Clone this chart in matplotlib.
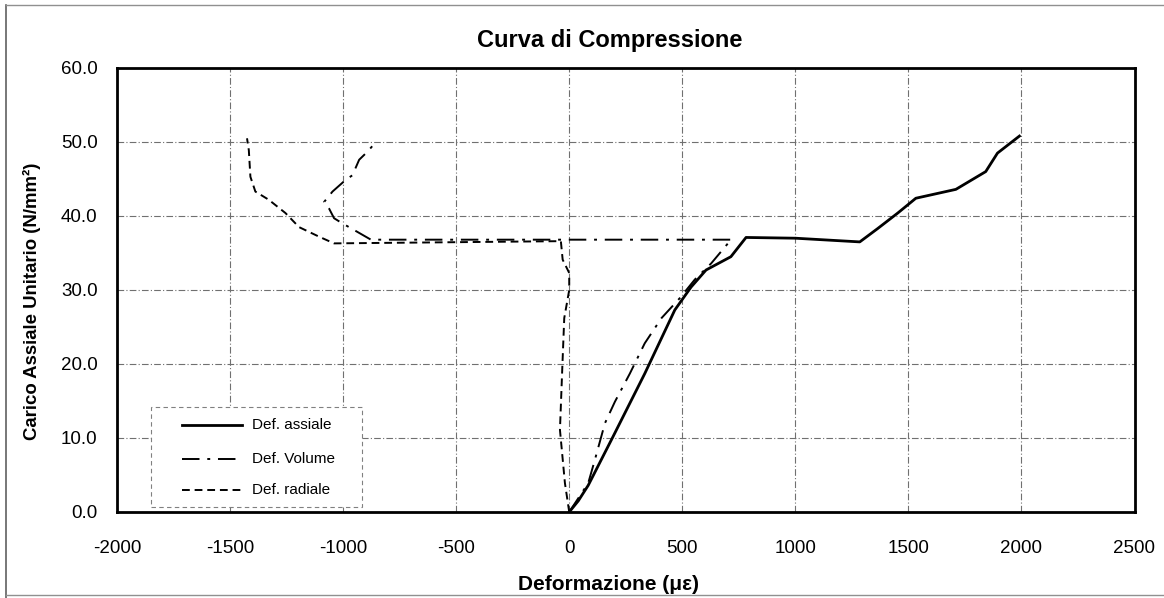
import matplotlib
matplotlib.use("Agg")
import matplotlib.pyplot as plt
from matplotlib.lines import Line2D
from matplotlib.patches import Rectangle

plt.rcParams['font.family'] = ['Liberation Sans', 'DejaVu Sans']

# Data (deformation in microstrain, load in N/mm2)
axial_x = [0, 40, 84, 194, 334, 467, 539, 605, 715, 782, 1000, 1285, 1364, 1453, 1533, 1710, 1842, 1894, 1991]
axial_y = [0, 1.5, 3.6, 10.2, 18.7, 27.3, 30.4, 32.7, 34.5, 37.1, 37.0, 36.5, 38.3, 40.4, 42.4, 43.6, 46.0, 48.5, 50.8]

volume_x = [0, 84, 113, 158, 202, 268, 334, 408, 489, 555, 628, 702, 720, -877, -951, -1003, -1040, -1062, -1084,
            -1047, -988, -959, -929, -892, -855]
volume_y = [0, 3.9, 7.0, 12.0, 14.9, 18.7, 22.8, 26.2, 28.9, 31.4, 33.6, 36.3, 36.8, 36.8, 38.1, 39.0, 39.7, 41.0, 41.9,
            43.3, 44.9, 45.5, 47.6, 48.7, 50.0]

radial_x = [0, -19, -41, -30, -22, 0, 0, -29, -37, -1040, -1106, -1195, -1255, -1329, -1388, -1410, -1417, -1425]
radial_y = [0, 3.9, 11.1, 20.0, 26.2, 30.0, 32.3, 34.1, 36.6, 36.3, 37.2, 38.5, 40.4, 42.2, 43.3, 45.3, 48.9, 50.5]

series_labels = ['Def. assiale', 'Def. Volume', 'Def. radiale']
x_ticks = [-2000, -1500, -1000, -500, 0, 500, 1000, 1500, 2000, 2500]
y_ticks = [0, 10, 20, 30, 40, 50, 60]

W, H = 1164, 598
AX_L, AX_R, AX_T, AX_B = 117, 1134.5, 68, 512
fig = plt.figure(figsize=(W / 100, H / 100), dpi=100)
ax = fig.add_axes([AX_L / W, 1 - AX_B / H, (AX_R - AX_L) / W, (AX_B - AX_T) / H])

styles = [dict(lw=2.0, ls='-'),
          dict(lw=1.4, ls=(0, (9, 4, 1.5, 4))),
          dict(lw=1.4, ls=(0, (4, 2.5)))]
ax.plot(axial_x, axial_y, color='black', zorder=4, **styles[0])
ax.plot(volume_x, volume_y, color='black', zorder=3, **styles[1])
ax.plot(radial_x, radial_y, color='black', zorder=3, **styles[2])

ax.set_xlim(-2000, 2500)
ax.set_ylim(0, 60)
ax.set_xticks(x_ticks)
ax.set_xticklabels([str(v) for v in x_ticks])
ax.set_yticks(y_ticks)
ax.set_yticklabels([f"{v:.1f}" for v in y_ticks])
ax.tick_params(axis='both', length=0, labelsize=13.5)
ax.tick_params(axis='x', pad=20)
ax.tick_params(axis='y', pad=14)

ax.grid(True, color='#707070', lw=0.8, ls=(0, (6, 2, 1, 2)))
ax.set_axisbelow(True)
for s in ax.spines.values():
    s.set_linewidth(2.0)
    s.set_color('black')


def axc(px, py):
    return ((px - AX_L) / (AX_R - AX_L), (AX_B - py) / (AX_B - AX_T))


tx, ty = axc(610, 41)
ax.text(tx, ty, 'Curva di Compressione', transform=ax.transAxes, ha='center', va='center',
        fontsize=17, fontweight='bold')
xx, xy = axc(608, 584)
ax.text(xx, xy, 'Deformazione (με)', transform=ax.transAxes, ha='center', va='center',
        fontsize=15, fontweight='bold')
yx, yy = axc(32, 301)
ax.text(yx, yy, 'Carico Assiale Unitario (N/mm²)', transform=ax.transAxes, ha='center', va='center',
        rotation=90, fontsize=13.4, fontweight='bold')

# legend box drawn manually
bx0, by0 = axc(151, 507)
bx1, by1 = axc(362, 407)
ax.add_patch(Rectangle((bx0, by0), bx1 - bx0, by1 - by0, transform=ax.transAxes, facecolor='white',
                       edgecolor='#808080', lw=0.8, ls=(0, (4, 3)), zorder=5))
for lab, st, py in zip(series_labels, styles, [425, 459, 490]):
    lx0, ly = axc(182, py)
    lx1, _ = axc(242, py)
    ax.add_line(Line2D([lx0, lx1], [ly, ly], transform=ax.transAxes, color='black', zorder=6, **st))
    tx0, _ = axc(252, py)
    ax.text(tx0, ly, lab, transform=ax.transAxes, ha='left', va='center', fontsize=11, zorder=6)

# outer border of the chart area
fig.add_artist(Line2D([6 / W, 6 / W], [0, 1 - 5 / H], color='#606060', lw=1.2))
fig.add_artist(Line2D([6 / W, 1], [1 - 5 / H, 1 - 5 / H], color='#909090', lw=1.0))
fig.add_artist(Line2D([6 / W, 1], [3 / H, 3 / H], color='#909090', lw=1.0))

fig.savefig('out.png', dpi=100)
